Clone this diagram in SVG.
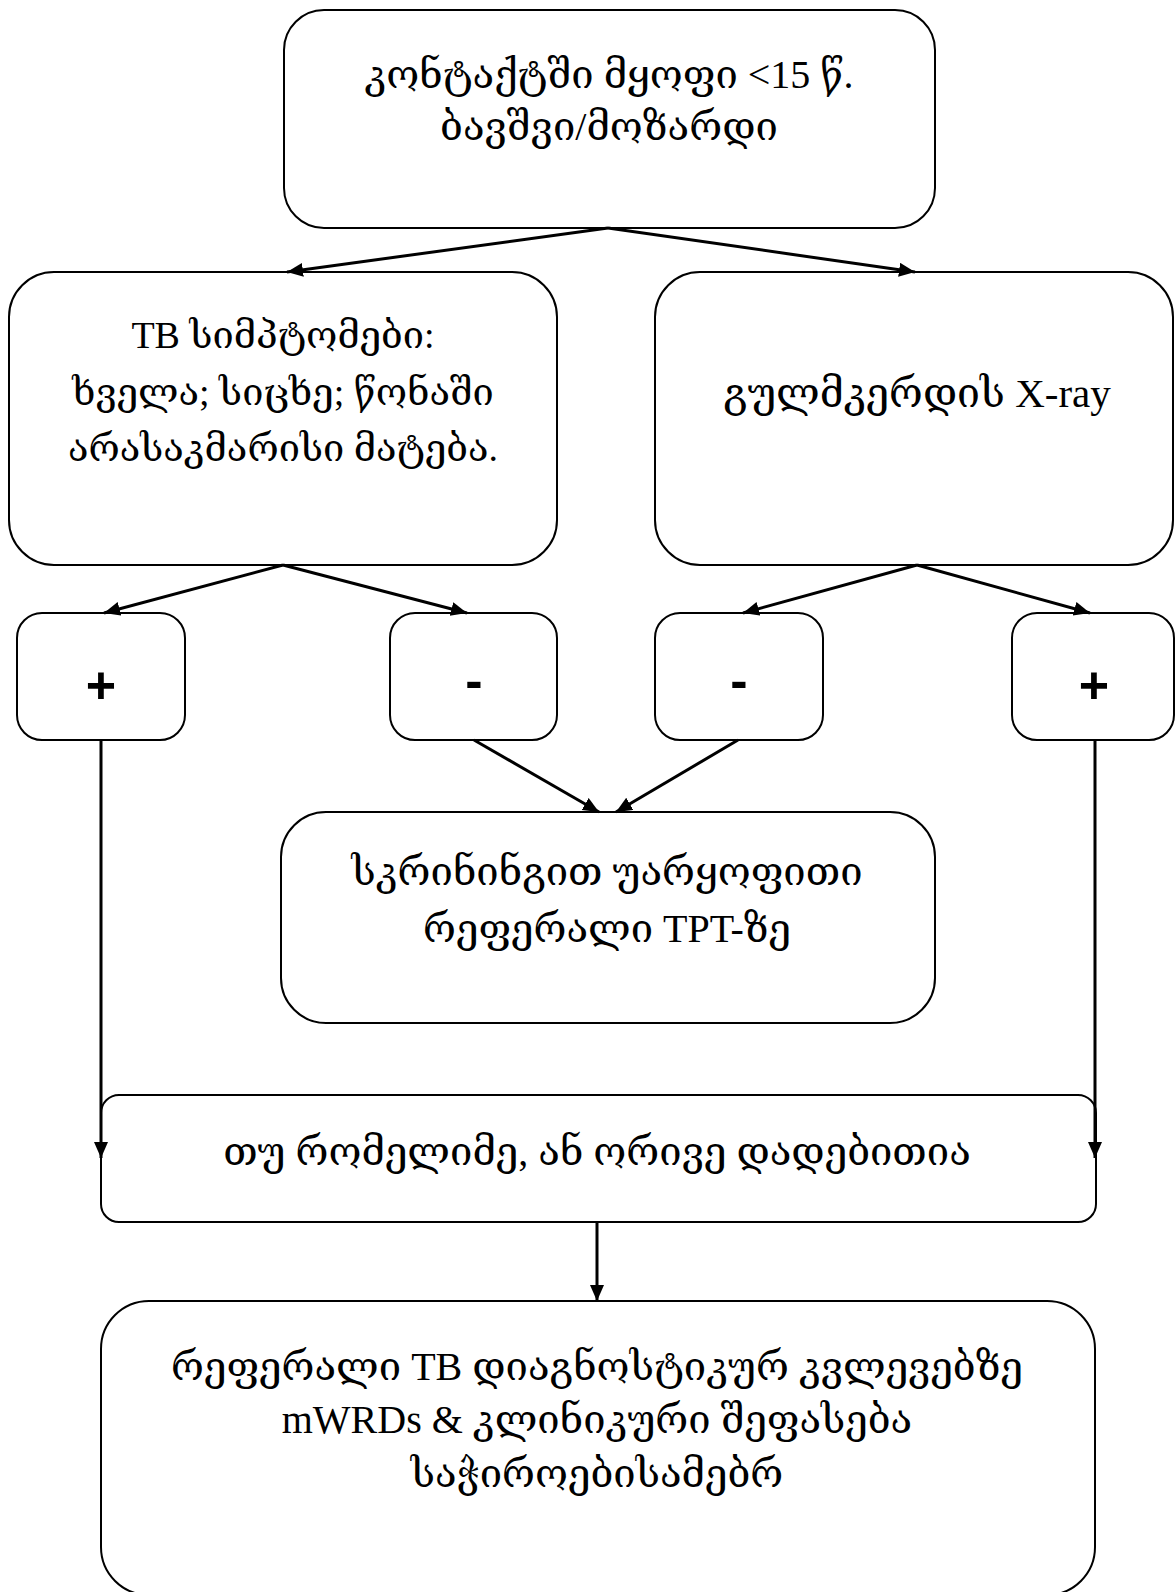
<svg xmlns="http://www.w3.org/2000/svg" width="1175" height="1592" viewBox="0 0 1175 1592">
<defs>
<style>
.box{fill:#fff;stroke:#000;stroke-width:2}
.t{font-family:"Liberation Serif","DejaVu Serif",serif;fill:#000;text-anchor:middle}
.s{font-family:"Liberation Sans",Arial,sans-serif;font-size:52px;font-weight:bold;fill:#000;text-anchor:middle}
.c{fill:none;stroke:#000;stroke-width:3}
</style>
<marker id="ah" markerUnits="userSpaceOnUse" markerWidth="18" markerHeight="16" refX="16" refY="7" orient="auto">
<path d="M0,0 L16,7 L0,14 z" fill="#000"/>
</marker>
</defs>
<rect width="1175" height="1592" fill="#fff"/>
<g id="n1"><rect class="box" x="284" y="10" width="651" height="218" rx="40"/>
<text class="t" font-size="40" x="609" y="88">კონტაქტში მყოფი &lt;15 წ.</text>
<text class="t" font-size="40" x="609" y="140">ბავშვი/მოზარდი</text></g>
<g id="n2"><rect class="box" x="9" y="272" width="548" height="293" rx="45"/>
<text class="t" font-size="38" x="283" y="348">TB სიმპტომები:</text>
<text class="t" font-size="38" x="283" y="405">ხველა; სიცხე; წონაში</text>
<text class="t" font-size="38" x="283" y="461">არასაკმარისი მატება.</text></g>
<g id="n3"><rect class="box" x="655" y="272" width="518" height="293" rx="45"/>
<text class="t" font-size="41" x="917" y="407">გულმკერდის X-ray</text></g>
<g id="n4"><rect class="box" x="17" y="613" width="168" height="127" rx="25"/><text class="s" x="101" y="703">+</text></g>
<g id="n5"><rect class="box" x="390" y="613" width="167" height="127" rx="25"/><text class="s" x="474" y="698">-</text></g>
<g id="n6"><rect class="box" x="655" y="613" width="168" height="127" rx="25"/><text class="s" x="739" y="698">-</text></g>
<g id="n7"><rect class="box" x="1012" y="613" width="162" height="127" rx="25"/><text class="s" x="1094" y="703">+</text></g>
<g id="n8"><rect class="box" x="281" y="812" width="654" height="211" rx="45"/>
<text class="t" font-size="40" x="607" y="885">სკრინინგით უარყოფითი</text>
<text class="t" font-size="40" x="607" y="942">რეფერალი TPT-ზე</text></g>
<g id="n9"><rect class="box" x="101" y="1095" width="995" height="127" rx="18"/>
<text class="t" font-size="40" x="597" y="1165">თუ რომელიმე, ან ორივე დადებითია</text></g>
<g id="n10"><rect class="box" x="101" y="1301" width="994" height="294" rx="48"/>
<text class="t" font-size="40" x="597" y="1380">რეფერალი TB დიაგნოსტიკურ კვლევებზე</text>
<text class="t" font-size="40" x="597" y="1433">mWRDs &amp; კლინიკური შეფასება</text>
<text class="t" font-size="40" x="597" y="1487">საჭიროებისამებრ</text></g>
<g id="connectors">
<line class="c" x1="608" y1="228" x2="287" y2="272" marker-end="url(#ah)"/>
<line class="c" x1="608" y1="228" x2="915" y2="272" marker-end="url(#ah)"/>
<line class="c" x1="283" y1="565" x2="104" y2="613" marker-end="url(#ah)"/>
<line class="c" x1="283" y1="565" x2="467" y2="613" marker-end="url(#ah)"/>
<line class="c" x1="917" y1="565" x2="743" y2="613" marker-end="url(#ah)"/>
<line class="c" x1="917" y1="565" x2="1090" y2="613" marker-end="url(#ah)"/>
<line class="c" x1="474" y1="740" x2="599" y2="812" marker-end="url(#ah)"/>
<line class="c" x1="738" y1="740" x2="616" y2="812" marker-end="url(#ah)"/>
<line class="c" x1="101" y1="740" x2="101" y2="1158" marker-end="url(#ah)"/>
<line class="c" x1="1095" y1="740" x2="1095" y2="1158" marker-end="url(#ah)"/>
<line class="c" x1="597" y1="1222" x2="597" y2="1301" marker-end="url(#ah)"/>
</g>
</svg>
